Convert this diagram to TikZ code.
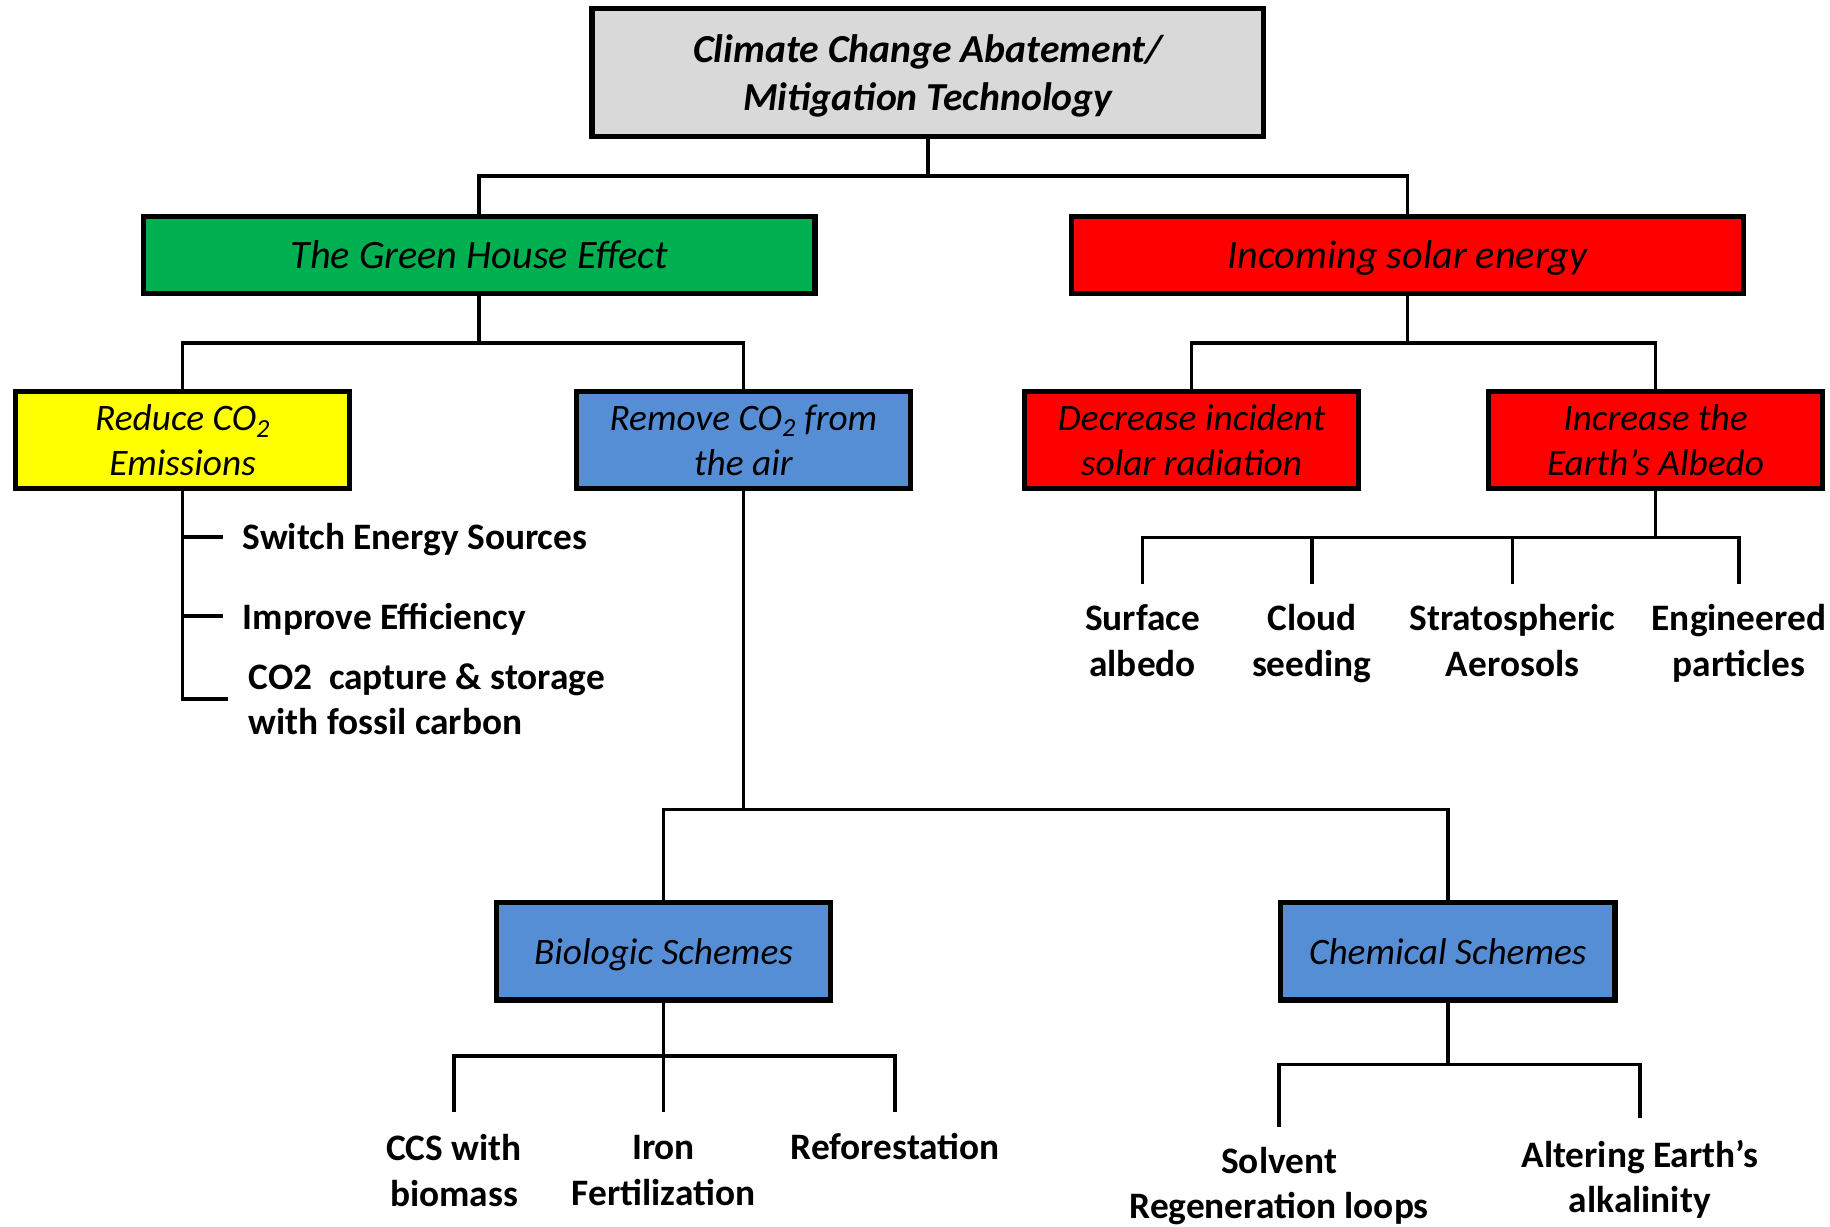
\documentclass[tikz,border=0pt]{standalone}
\usepackage{fontspec}
\setmainfont{Carlito}
\definecolor{topgray}{HTML}{D9D9D9}
\definecolor{ghgreen}{HTML}{00B050}
\definecolor{solred}{HTML}{FF0000}
\definecolor{redyellow}{HTML}{FFFF00}
\definecolor{remblue}{HTML}{558ED5}
\begin{document}
\begin{tikzpicture}[x=1pt,y=-1pt,
  box/.style={draw, line width=4.5pt, align=center, inner sep=0pt, text depth=0pt,
    minimum width=286.5pt, minimum height=82.5pt,
    font=\fontsize{32}{39}\selectfont\itshape},
  conn/.style={line width=3pt},
  lbl/.style={align=center, inner sep=0pt, font=\fontsize{32}{39}\selectfont\bfseries}]
\useasboundingbox (0,0) rectangle (1568,1051);

% boxes
\node[box, fill=topgray, minimum width=575.5pt, minimum height=109.5pt,
  font=\fontsize{34}{41}\selectfont\bfseries\itshape] (top) at (795,62)
  {Climate Change Abatement/\\Mitigation Technology};
\node[box, fill=ghgreen, minimum width=575.5pt, minimum height=66.5pt,
  font=\fontsize{34.5}{41}\selectfont\itshape] (green) at (410.5,218.5) {The Green House Effect};
\node[box, fill=solred, minimum width=575.5pt, minimum height=66.5pt,
  font=\fontsize{34.5}{41}\selectfont\itshape] (red) at (1206,218.5) {Incoming solar energy};
\node[box, fill=redyellow] (yellow) at (156.5,377) {Reduce CO\textsubscript{2}\\Emissions};
\node[box, fill=remblue] (remove) at (637,377) {Remove CO\textsubscript{2} from\\the air};
\node[box, fill=solred] (dec) at (1021,377) {Decrease incident\\solar radiation};
\node[box, fill=solred] (inc) at (1418.5,377) {Increase the\\Earth’s Albedo};
\node[box, fill=remblue, minimum height=83.5pt] (bio) at (568.5,815) {Biologic Schemes};
\node[box, fill=remblue, minimum height=83.5pt] (chem) at (1240.5,815) {Chemical Schemes};

% top level connectors
\draw[conn] (top.south) -- ++(0,32) -| (green.north);
\draw[conn] (top.south) -- ++(0,32) -| (red.north);
\draw[conn] (green.south) -- ++(0,40) -| (yellow.north);
\draw[conn] (green.south) -- ++(0,40) -| (remove.north);
\draw[conn] (red.south) -- ++(0,40) -| (dec.north);
\draw[conn] (red.south) -- ++(0,40) -| (inc.north);

% reduce CO2 list
\node[lbl, anchor=west, outer xsep=17pt, text depth=0pt] (sw) at (191,460) {Switch Energy Sources};
\node[lbl, anchor=west, outer xsep=17pt, text depth=0pt] (ie) at (191,528) {Improve Efficiency};
\node[lbl, anchor=west, align=left, outer xsep=18pt] (ccs) at (195,599) {CO2\ \ capture \& storage\\with fossil carbon};
\draw[conn] (yellow.south) |- (ccs.west);
\draw[conn] (yellow.south |- sw.west) -- (sw.west);
\draw[conn] (yellow.south |- ie.west) -- (ie.west);

% remove CO2
\draw[conn] (remove.south) -- ++(0,273) -| (bio.north);
\draw[conn] (remove.south) -- ++(0,273) -| (chem.north);

% albedo
\node[lbl, anchor=north, outer ysep=18pt] (surf) at (979,500) {Surface\\albedo};
\node[lbl, anchor=north, outer ysep=18pt] (cloud) at (1124,500) {Cloud\\seeding};
\node[lbl, anchor=north, outer ysep=18pt] (strat) at (1296,500) {Stratospheric\\Aerosols};
\node[lbl, anchor=north, outer ysep=18pt] (eng) at (1490,500) {Engineered\\particles};
\draw[conn] (inc.south) -- ++(0,40) coordinate (ab);
\foreach \n in {surf,cloud,strat,eng} \draw[conn] (ab) -| (\n.north);

% biologic
\node[lbl, anchor=north, outer ysep=19pt] (ccsb) at (389,953) {CCS with\\biomass};
\node[lbl, anchor=north, outer ysep=20pt] (iron) at (568.5,953) {Iron\\Fertilization};
\node[lbl, anchor=north, outer ysep=18pt] (refo) at (767,953) {Reforestation};
\draw[conn] (bio.south) -- ++(0,46) coordinate (bb);
\foreach \n in {ccsb,iron,refo} \draw[conn] (bb) -| (\n.north);

% chemical
\node[lbl, anchor=north, outer ysep=17pt] (solv) at (1096,966) {Solvent\\Regeneration loops};
\node[lbl, anchor=north, outer ysep=19pt] (alt) at (1405,958) {Altering Earth’s\\alkalinity};
\draw[conn] (chem.south) -- ++(0,53) coordinate (cb);
\foreach \n in {solv,alt} \draw[conn] (cb) -| (\n.north);
\end{tikzpicture}
\end{document}
